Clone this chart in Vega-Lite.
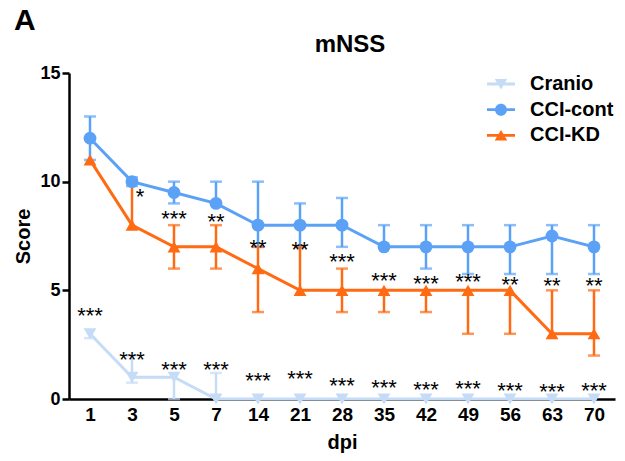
{
  "$schema": "https://vega.github.io/schema/vega-lite/v6.json",
  "padding": {"left": 13, "top": 6, "right": 5, "bottom": 4},
  "title": {"text": "A", "anchor": "start", "frame": "bounds", "font": "Liberation Sans", "fontSize": 30, "fontWeight": "bold", "color": "black", "offset": -3},
  "datasets": {
    "scores": [
      {"group": "CCI-KD", "dpi": 1, "score": 11, "low": 11, "high": 11},
      {"group": "CCI-KD", "dpi": 3, "score": 8, "low": 8, "high": 10},
      {"group": "CCI-KD", "dpi": 5, "score": 7, "low": 6, "high": 8},
      {"group": "CCI-KD", "dpi": 7, "score": 7, "low": 6, "high": 8},
      {"group": "CCI-KD", "dpi": 14, "score": 6, "low": 4, "high": 7},
      {"group": "CCI-KD", "dpi": 21, "score": 5, "low": 5, "high": 7},
      {"group": "CCI-KD", "dpi": 28, "score": 5, "low": 4, "high": 6},
      {"group": "CCI-KD", "dpi": 35, "score": 5, "low": 4, "high": 5},
      {"group": "CCI-KD", "dpi": 42, "score": 5, "low": 4, "high": 5},
      {"group": "CCI-KD", "dpi": 49, "score": 5, "low": 3, "high": 5},
      {"group": "CCI-KD", "dpi": 56, "score": 5, "low": 3, "high": 5},
      {"group": "CCI-KD", "dpi": 63, "score": 3, "low": 3, "high": 5},
      {"group": "CCI-KD", "dpi": 70, "score": 3, "low": 2, "high": 5},
      {"group": "CCI-cont", "dpi": 1, "score": 12, "low": 11, "high": 13},
      {"group": "CCI-cont", "dpi": 3, "score": 10, "low": 9.8, "high": 10.2},
      {"group": "CCI-cont", "dpi": 5, "score": 9.5, "low": 9, "high": 10},
      {"group": "CCI-cont", "dpi": 7, "score": 9, "low": 9, "high": 10},
      {"group": "CCI-cont", "dpi": 14, "score": 8, "low": 7, "high": 10},
      {"group": "CCI-cont", "dpi": 21, "score": 8, "low": 7, "high": 9},
      {"group": "CCI-cont", "dpi": 28, "score": 8, "low": 7, "high": 9.25},
      {"group": "CCI-cont", "dpi": 35, "score": 7, "low": 7, "high": 8},
      {"group": "CCI-cont", "dpi": 42, "score": 7, "low": 6, "high": 8},
      {"group": "CCI-cont", "dpi": 49, "score": 7, "low": 5.75, "high": 8},
      {"group": "CCI-cont", "dpi": 56, "score": 7, "low": 5.75, "high": 8},
      {"group": "CCI-cont", "dpi": 63, "score": 7.5, "low": 5.75, "high": 8},
      {"group": "CCI-cont", "dpi": 70, "score": 7, "low": 5.75, "high": 8},
      {"group": "Cranio", "dpi": 1, "score": 3, "low": 2.8, "high": 3},
      {"group": "Cranio", "dpi": 3, "score": 1, "low": 0.75, "high": 2},
      {"group": "Cranio", "dpi": 5, "score": 1, "low": 0, "high": 1},
      {"group": "Cranio", "dpi": 7, "score": 0, "low": 0, "high": 1.2},
      {"group": "Cranio", "dpi": 14, "score": 0, "low": 0, "high": 0},
      {"group": "Cranio", "dpi": 21, "score": 0, "low": 0, "high": 0},
      {"group": "Cranio", "dpi": 28, "score": 0, "low": 0, "high": 0},
      {"group": "Cranio", "dpi": 35, "score": 0, "low": 0, "high": 0},
      {"group": "Cranio", "dpi": 42, "score": 0, "low": 0, "high": 0},
      {"group": "Cranio", "dpi": 49, "score": 0, "low": 0, "high": 0},
      {"group": "Cranio", "dpi": 56, "score": 0, "low": 0, "high": 0},
      {"group": "Cranio", "dpi": 63, "score": 0, "low": 0, "high": 0},
      {"group": "Cranio", "dpi": 70, "score": 0, "low": 0, "high": 0}
    ],
    "stars": [
      {"dpi": 3, "pos": 9.45, "label": "*", "side": "right"},
      {"dpi": 5, "pos": 8.4, "label": "***", "side": "center"},
      {"dpi": 7, "pos": 8.3, "label": "**", "side": "center"},
      {"dpi": 14, "pos": 7.1, "label": "**", "side": "center"},
      {"dpi": 21, "pos": 7.0, "label": "**", "side": "center"},
      {"dpi": 28, "pos": 6.45, "label": "***", "side": "center"},
      {"dpi": 35, "pos": 5.55, "label": "***", "side": "center"},
      {"dpi": 42, "pos": 5.45, "label": "***", "side": "center"},
      {"dpi": 49, "pos": 5.5, "label": "***", "side": "center"},
      {"dpi": 56, "pos": 5.4, "label": "**", "side": "center"},
      {"dpi": 63, "pos": 5.33, "label": "**", "side": "center"},
      {"dpi": 70, "pos": 5.33, "label": "**", "side": "center"},
      {"dpi": 1, "pos": 3.95, "label": "***", "side": "center"},
      {"dpi": 3, "pos": 1.93, "label": "***", "side": "center"},
      {"dpi": 5, "pos": 1.47, "label": "***", "side": "center"},
      {"dpi": 7, "pos": 1.47, "label": "***", "side": "center"},
      {"dpi": 14, "pos": 0.96, "label": "***", "side": "center"},
      {"dpi": 21, "pos": 1.06, "label": "***", "side": "center"},
      {"dpi": 28, "pos": 0.73, "label": "***", "side": "center"},
      {"dpi": 35, "pos": 0.64, "label": "***", "side": "center"},
      {"dpi": 42, "pos": 0.55, "label": "***", "side": "center"},
      {"dpi": 49, "pos": 0.6, "label": "***", "side": "center"},
      {"dpi": 56, "pos": 0.5, "label": "***", "side": "center"},
      {"dpi": 63, "pos": 0.46, "label": "***", "side": "center"},
      {"dpi": 70, "pos": 0.5, "label": "***", "side": "center"}
    ]
  },
  "vconcat": [
    {
      "width": 546,
      "height": 326,
      "title": {"text": "mNSS", "anchor": "middle", "frame": "group", "font": "Liberation Sans", "fontSize": 24, "fontWeight": "bold", "color": "black", "offset": 7, "dx": 8},
      "encoding": {
        "x": {"field": "dpi", "type": "ordinal", "title": "dpi",
          "scale": {"type": "point", "padding": 0.5, "domain": [1, 3, 5, 7, 14, 21, 28, 35, 42, 49, 56, 63, 70]},
          "axis": {"ticks": false, "tickSize": 0, "labelAngle": 0, "labelPadding": 6, "labelFontSize": 19, "titlePadding": 8}}
      },
      "layer": [
        {
          "data": {"name": "scores"},
          "mark": {"type": "rule", "strokeWidth": 2.5},
          "encoding": {
            "y": {"field": "low", "type": "quantitative", "title": "Score", "scale": {"domain": [0, 15], "nice": false}, "axis": {"values": [0, 5, 10, 15], "tickSize": 7, "labelPadding": 2, "titlePadding": 6}},
            "y2": {"field": "high"},
            "color": {"field": "group", "type": "nominal", "legend": null, "scale": {"domain": ["Cranio", "CCI-cont", "CCI-KD"], "range": ["#c6dcf6", "#5ba2f6", "#ff6a13"]}}
          }
        },
        {
          "data": {"name": "scores"},
          "transform": [{"filter": "datum.low < datum.score"}],
          "mark": {"type": "tick", "thickness": 2.5, "size": 12},
          "encoding": {
            "y": {"field": "low", "type": "quantitative", "title": "Score", "scale": {"domain": [0, 15], "nice": false}},
            "color": {"field": "group", "type": "nominal", "legend": null, "scale": {"domain": ["Cranio", "CCI-cont", "CCI-KD"], "range": ["#c6dcf6", "#5ba2f6", "#ff6a13"]}}
          }
        },
        {
          "data": {"name": "scores"},
          "transform": [{"filter": "datum.high > datum.score"}],
          "mark": {"type": "tick", "thickness": 2.5, "size": 12},
          "encoding": {
            "y": {"field": "high", "type": "quantitative", "title": "Score", "scale": {"domain": [0, 15], "nice": false}},
            "color": {"field": "group", "type": "nominal", "legend": null, "scale": {"domain": ["Cranio", "CCI-cont", "CCI-KD"], "range": ["#c6dcf6", "#5ba2f6", "#ff6a13"]}}
          }
        },
        {
          "data": {"name": "scores"},
          "mark": {"type": "line", "strokeWidth": 3},
          "encoding": {
            "y": {"field": "score", "type": "quantitative", "title": "Score", "scale": {"domain": [0, 15], "nice": false}},
            "color": {"field": "group", "type": "nominal", "legend": null, "scale": {"domain": ["Cranio", "CCI-cont", "CCI-KD"], "range": ["#c6dcf6", "#5ba2f6", "#ff6a13"]}}
          }
        },
        {
          "data": {"name": "scores"},
          "mark": {"type": "point", "filled": true, "size": 165, "opacity": 1},
          "encoding": {
            "y": {"field": "score", "type": "quantitative", "title": "Score", "scale": {"domain": [0, 15], "nice": false}},
            "color": {"field": "group", "type": "nominal", "legend": null, "scale": {"domain": ["Cranio", "CCI-cont", "CCI-KD"], "range": ["#c6dcf6", "#5ba2f6", "#ff6a13"]}},
            "shape": {"field": "group", "type": "nominal", "legend": null, "scale": {"domain": ["Cranio", "CCI-cont", "CCI-KD"], "range": ["triangle-down", "circle", "triangle-up"]}}
          }
        },
        {
          "data": {"name": "scores"},
          "transform": [{"filter": "datum.score > 100"}],
          "mark": {"type": "point", "filled": true, "opacity": 1},
          "encoding": {
            "y": {"field": "score", "type": "quantitative", "title": "Score", "scale": {"domain": [0, 15], "nice": false}},
            "color": {"field": "group", "type": "nominal", "title": null,
              "scale": {"domain": ["Cranio", "CCI-cont", "CCI-KD"], "range": ["#c6dcf6", "#5ba2f6", "#ff6a13"]},
              "legend": {"orient": "none", "legendX": 422, "legendY": 1, "title": null, "labelFont": "Liberation Sans", "labelFontSize": 20, "labelFontWeight": "bold", "labelColor": "black", "symbolSize": 400, "symbolStrokeWidth": 0, "labelOffset": 19, "rowPadding": 5.7, "padding": 0}},
            "shape": {"field": "group", "type": "nominal", "title": null,
              "scale": {"domain": ["Cranio", "CCI-cont", "CCI-KD"], "range": [
                "M-1.4,-0.14L1.4,-0.14L1.4,0.14L-1.4,0.14Z M-0.63,-0.5L0.63,-0.5L0,0.55Z",
                "M-1.4,-0.14L1.4,-0.14L1.4,0.14L-1.4,0.14Z M-0.6,0A0.6,0.6 0 1,1 0.6,0A0.6,0.6 0 1,1 -0.6,0Z",
                "M-1.4,-0.14L1.4,-0.14L1.4,0.14L-1.4,0.14Z M0,-0.55L0.63,0.5L-0.63,0.5Z"]},
              "legend": {"orient": "none", "legendX": 422, "legendY": 1, "title": null, "labelFont": "Liberation Sans", "labelFontSize": 20, "labelFontWeight": "bold", "labelColor": "black", "symbolSize": 400, "symbolStrokeWidth": 0, "labelOffset": 19, "rowPadding": 5.7, "padding": 0}}
          }
        },
        {
          "data": {"name": "stars"},
          "transform": [{"filter": "datum.side == 'center'"}],
          "mark": {"type": "text", "font": "Liberation Sans", "fontSize": 22, "color": "black", "baseline": "alphabetic", "align": "center", "dy": 10},
          "encoding": {
            "y": {"field": "pos", "type": "quantitative", "title": "Score", "scale": {"domain": [0, 15], "nice": false}},
            "text": {"field": "label"}
          }
        },
        {
          "data": {"name": "stars"},
          "transform": [{"filter": "datum.side == 'right'"}],
          "mark": {"type": "text", "font": "Liberation Sans", "fontSize": 22, "color": "black", "baseline": "alphabetic", "align": "center", "dy": 10, "dx": 8},
          "encoding": {
            "y": {"field": "pos", "type": "quantitative", "title": "Score", "scale": {"domain": [0, 15], "nice": false}},
            "text": {"field": "label"}
          }
        }
      ],
      "resolve": {"scale": {"color": "independent", "shape": "independent"}}
    }
  ],
  "config": {
    "font": "Liberation Sans",
    "view": {"stroke": null},
    "axis": {"grid": false, "domainColor": "black", "domainWidth": 2.5, "tickColor": "black", "tickWidth": 2.5, "labelColor": "black", "labelFont": "Liberation Sans", "labelFontWeight": "bold", "labelFontSize": 18, "titleColor": "black", "titleFont": "Liberation Sans", "titleFontWeight": "bold", "titleFontSize": 20}
  }
}
